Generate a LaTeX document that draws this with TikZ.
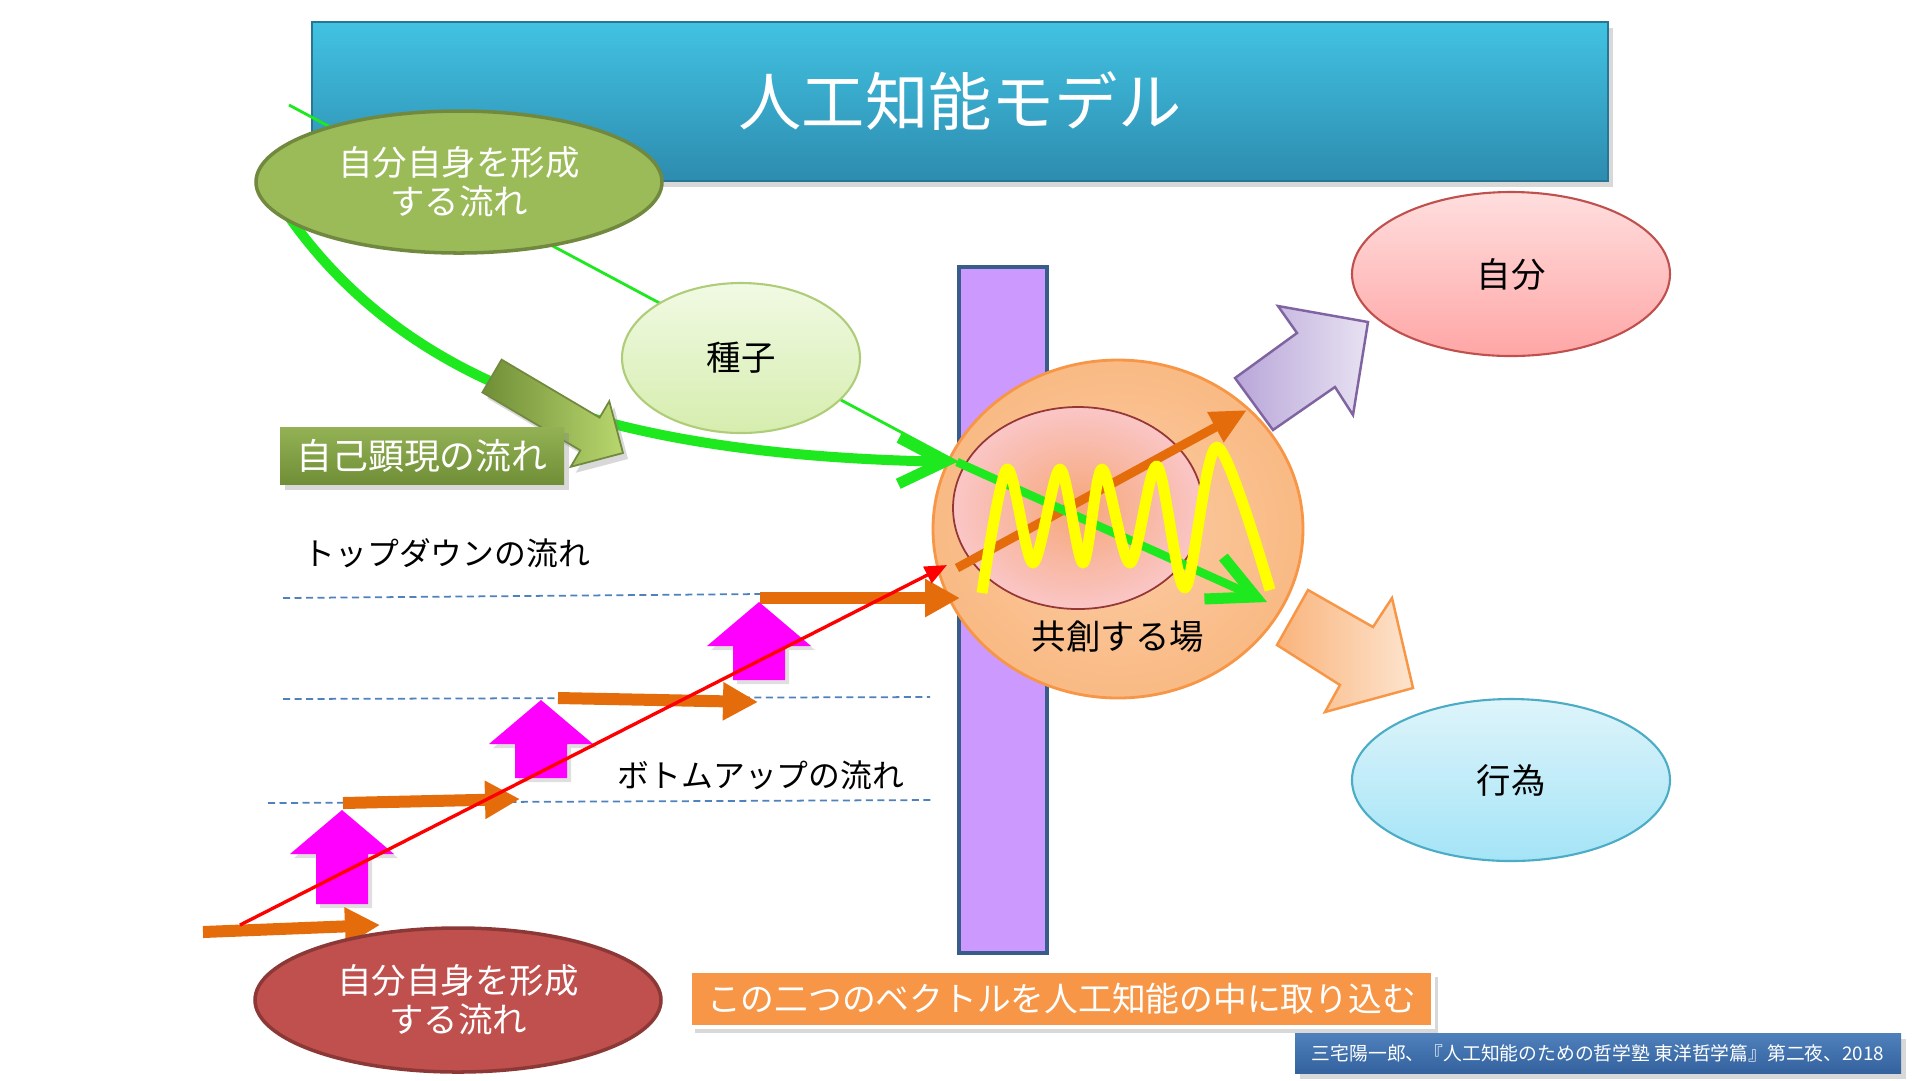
\documentclass[tikz,border=0pt]{standalone}
\usepackage{fontspec}
\setmainfont{Noto Sans CJK JP}
\usetikzlibrary{shapes.geometric,arrows.meta,shadows}

\definecolor{titletop}{RGB}{66,194,226}
\definecolor{titlebot}{RGB}{45,140,175}
\definecolor{titleline}{RGB}{40,118,148}
\definecolor{olive}{RGB}{155,187,89}
\definecolor{oliveline}{RGB}{113,137,63}
\definecolor{olivedark}{RGB}{112,142,54}
\definecolor{olivelight}{RGB}{185,215,110}
\definecolor{seedtop}{RGB}{241,250,228}
\definecolor{seedbot}{RGB}{214,237,174}
\definecolor{seedline}{RGB}{175,205,120}
\definecolor{flowgreen}{RGB}{30,232,30}
\definecolor{barpurple}{RGB}{204,153,255}
\definecolor{barline}{RGB}{56,93,138}
\definecolor{peachin}{RGB}{252,204,164}
\definecolor{peachout}{RGB}{249,186,132}
\definecolor{peachline}{RGB}{247,150,70}
\definecolor{corein}{RGB}{246,166,120}
\definecolor{coreout}{RGB}{250,198,198}
\definecolor{coreline}{RGB}{149,55,53}
\definecolor{stepor}{RGB}{228,108,10}
\definecolor{dashblue}{RGB}{79,129,189}
\definecolor{brick}{RGB}{192,80,77}
\definecolor{brickline}{RGB}{140,56,54}
\definecolor{banneror}{RGB}{247,150,70}
\definecolor{citetop}{RGB}{79,129,189}
\definecolor{citebot}{RGB}{52,98,158}
\definecolor{lavdark}{RGB}{184,166,217}
\definecolor{lavlight}{RGB}{232,226,242}
\definecolor{lavline}{RGB}{128,100,162}
\definecolor{pchdark}{RGB}{249,180,124}
\definecolor{pchlight}{RGB}{253,228,206}
\definecolor{selftop}{RGB}{255,222,222}
\definecolor{selfbot}{RGB}{255,166,166}
\definecolor{acttop}{RGB}{222,244,250}
\definecolor{actbot}{RGB}{164,228,247}
\definecolor{actline}{RGB}{75,172,198}
\definecolor{pushpink}{RGB}{255,0,255}
\definecolor{wavey}{RGB}{255,255,0}

\begin{document}
\begin{tikzpicture}[x=0.1mm, y=-0.1mm,
    ovalnode/.style={ellipse, inner sep=0, align=center, font=\fontsize{9.8}{11.2}\selectfont},
    plaintext/.style={inner sep=0, font=\fontsize{9.8}{11.2}\selectfont},
    boxshadow/.style={drop shadow={opacity=0.3, shadow xshift=0.5mm, shadow yshift=-0.6mm}},
    flowarrow/.style={flowgreen, line width=1mm, -{Straight Barb[length=4.6mm, width=4.6mm, line width=1.1mm]}},
    steparrow/.style={stepor, line width=1.2mm, -{Triangle[length=3.5mm, width=3.6mm]}},
    dashline/.style={dashblue, line width=0.5pt, dash pattern=on 0.7mm off 0.45mm},
    magarrow/.style={fill=pushpink, drop shadow={opacity=0.25, shadow xshift=0.4mm, shadow yshift=-0.4mm}}]

    % Canvas
    \useasboundingbox (0,0) rectangle (1920,1080);
    \fill[white] (0,0) rectangle (1920,1080);

    % Title bar
    \node[top color=titletop, bottom color=titlebot, draw=titleline, line width=0.6pt, boxshadow,
          text=white, minimum width=129.6mm, minimum height=15.9mm, inner sep=0,
          font=\fontsize{18}{20}\selectfont] (title) at (960,101.5) {人工知能モデル};

    % Wall and field
    \node[draw=barline, line width=1pt, fill=barpurple, minimum width=8.8mm, minimum height=68.6mm, inner sep=0] (bar) at (1003,610) {};
    \node[ovalnode, inner color=peachin, outer color=peachout, draw=peachline, line width=0.8pt,
          minimum width=37mm, minimum height=33.8mm] (field) at (1118,529) {};
    \node[ovalnode, inner color=corein, outer color=coreout, draw=coreline, line width=0.5pt,
          minimum width=25mm, minimum height=20.2mm] (core) at (1078,508) {};
    \node[plaintext] (fieldlbl) at (1118,637) {共創する場};

    % Flow end points
    \coordinate (gStart) at (289,105);
    \coordinate (cStart) at (287,214);
    \coordinate (gHit) at (957,462);
    \coordinate (gEnd) at (1267,602);
    \coordinate (oStart) at (957,568);
    \coordinate (oEnd) at (1247,410);

    % Top-down flows
    \draw[flowgreen, line width=0.8pt] (gStart) -- (gHit);
    \draw[flowarrow] (cStart) .. controls (410,390) and (620,455) .. (gHit);

    \node[ovalnode, fill=olive, draw=oliveline, line width=1pt, text=white,
          minimum width=40.6mm, minimum height=14.2mm] (selfTop) at (459,182) {自分自身を形成\\する流れ};
    \node[ovalnode, top color=seedtop, bottom color=seedbot, draw=seedline, line width=0.6pt,
          minimum width=23.8mm, minimum height=15mm] (seed) at (741,358) {種子};

    \draw[oliveline, line width=0.5pt, left color=olivedark, right color=olivelight, boxshadow]
        (501.6,359.6) -- (599.6,417.6) -- (609.3,401.2) -- (623,453) -- (570.7,466.8)
        -- (580.4,450.4) -- (482.4,392.4) -- cycle;

    \node[top color=olive!95!black, bottom color=olivedark, text=white, boxshadow,
          minimum width=28.4mm, minimum height=5.7mm, inner sep=0,
          font=\fontsize{10.2}{12}\selectfont] (selfLbl) at (422,455.5) {自己顕現の流れ};

    % Inside the field
    \draw[stepor, line width=0.9mm, -{Triangle[length=3.6mm, width=3.2mm]}] (oStart) -- (oEnd);
    \draw[flowarrow, line width=0.85mm] (gHit) -- (gEnd);
    \draw[wavey, line width=1.1mm, line join=round] plot[smooth, tension=0.5] coordinates {
        (982,593) (1007,469) (1033,563) (1060,469) (1083,563) (1102,469)
        (1130,563) (1157,466) (1185,588) (1217,447) (1270,590)};

    % Levels
    \draw[dashline] (283,598) -- (760,594);
    \draw[dashline] (283,699) -- (930,697);
    \draw[dashline] (268,803) -- (934,800);

    % Bottom-up steps
    \foreach \ax/\ay/\bx/\by in {203/932/380/925, 343/803/520/799, 558/698/758/702, 760/598/960/598}
        \draw[steparrow] (\ax,\ay) -- (\bx,\by);
    \foreach \cx/\tp/\bt in {342/810/904, 541/700/778, 759/602/680}
        \fill[magarrow] (\cx-26,\bt) -- (\cx-26,\tp+44) -- (\cx-52,\tp+44) -- (\cx,\tp)
            -- (\cx+52,\tp+44) -- (\cx+26,\tp+44) -- (\cx+26,\bt) -- cycle;

    \coordinate (rStart) at (240,925);
    \coordinate (rEnd) at (947,565);
    \draw[red, line width=0.95pt, -{Triangle[length=2.2mm, width=1.8mm]}] (rStart) -- (rEnd);

    \node[plaintext, anchor=west, font=\fontsize{9.05}{11}\selectfont] (topdown) at (303,553) {トップダウンの流れ};
    \node[plaintext, font=\fontsize{9.05}{11}\selectfont] (bottomup) at (761,775) {ボトムアップの流れ};

    \node[ovalnode, fill=brick, draw=brickline, line width=1pt, text=white,
          minimum width=40.6mm, minimum height=14.4mm] (selfBot) at (458,1000) {自分自身を形成\\する流れ};

    % Captions
    \node[fill=banneror, draw=white, line width=1.2pt, text=white, boxshadow,
          minimum width=74.3mm, minimum height=5.6mm, inner sep=0,
          font=\fontsize{9.6}{11}\selectfont] (banner) at (1061.5,999) {この二つのベクトルを人工知能の中に取り込む};
    \node[top color=citetop, bottom color=citebot, text=white, boxshadow,
          minimum width=60.6mm, minimum height=4mm, inner sep=0,
          font=\fontsize{5.35}{6}\selectfont] (cite) at (1598,1053) {三宅陽一郎、『人工知能のための哲学塾 東洋哲学篇』第二夜、2018};

    % Outputs
    \draw[lavline, line width=0.7pt, left color=lavdark, right color=lavlight]
        (1235,378) -- (1297,333) -- (1278,306) -- (1368,322) -- (1353,415) -- (1335,387) -- (1273,430) -- cycle;
    \draw[peachline, line width=0.7pt, left color=pchdark, right color=pchlight]
        (1308,590) -- (1373,627) -- (1392,598) -- (1413,688) -- (1325,712) -- (1340,685) -- (1277,645) -- cycle;

    \node[ovalnode, top color=selftop, bottom color=selfbot, draw=brick, line width=0.6pt,
          minimum width=31.8mm, minimum height=16.4mm] (self) at (1511,274) {自分};
    \node[ovalnode, top color=acttop, bottom color=actbot, draw=actline, line width=0.6pt,
          minimum width=31.8mm, minimum height=16.2mm] (act) at (1511,780) {行為};

\end{tikzpicture}
\end{document}
